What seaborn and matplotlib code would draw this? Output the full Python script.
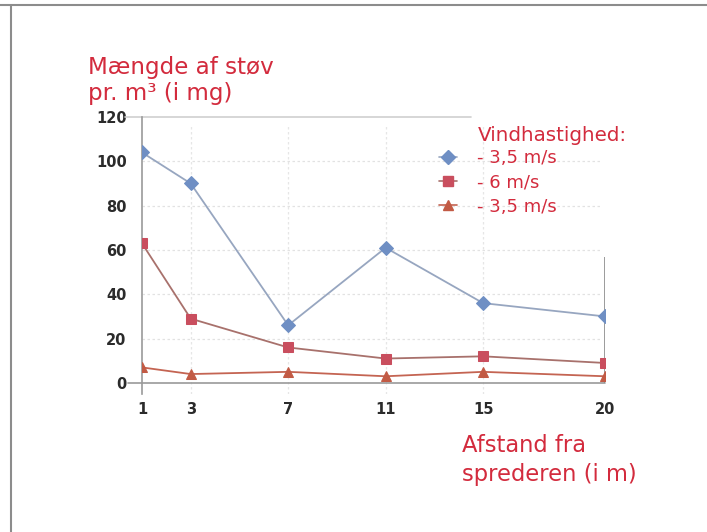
import numpy as np
import pandas as pd
import matplotlib
matplotlib.use("Agg")
import matplotlib.pyplot as plt
import seaborn as sns
from matplotlib.lines import Line2D

# afstand fra sprederen (m) og mængde af støv (mg pr. m3)
afstand = [1, 3, 7, 11, 15, 20]
serie_a = [104, 90, 26, 61, 36, 30]   # - 3,5 m/s
serie_b = [63, 29, 16, 11, 12, 9]     # - 6 m/s
serie_c = [7, 4, 5, 3, 5, 3]          # - 3,5 m/s
navne = ["- 3,5 m/s", "- 6 m/s", "- 3,5 m/s "]
y_ticks = [0, 20, 40, 60, 80, 100, 120]

df = pd.DataFrame({
    "afstand": afstand * 3,
    "mg": serie_a + serie_b + serie_c,
    "serie": [navne[0]] * 6 + [navne[1]] * 6 + [navne[2]] * 6,
})

sns.set_theme(style="white")
plt.rcParams['font.family'] = ['DejaVu Sans']

rod = "#d32b3d"
linje_farver = ["#97a6c0", "#a8716c", "#c46452"]
marker_farver = ["#6f8fc4", "#c94e5e", "#c25a44"]
marker_typer = ["D", "s", "^"]
marker_str = [7, 6.5, 7]

fig = plt.figure(figsize=(7.07, 5.32), dpi=100)
ax = fig.add_axes([0.2008, 0.2594, 0.6549, 0.5207])

sns.lineplot(data=df, x="afstand", y="mg", hue="serie", style="serie",
             palette=linje_farver, markers=marker_typer, dashes=False,
             linewidth=1.3, ax=ax, legend=False)

for i, ln in enumerate(ax.lines):
    ln.set_markerfacecolor(marker_farver[i])
    ln.set_markeredgecolor(marker_farver[i])
    ln.set_markersize(marker_str[i])
    ln.set_zorder(5 - i)

ax.set_xlim(afstand[0], afstand[-1])
ax.set_ylim(-5, 120)
ax.set_xticks(afstand)
ax.set_yticks(y_ticks)
ax.set_xticklabels([str(a) for a in afstand], fontweight="bold", fontsize=10.5, color="#2b2b2b")
ax.set_yticklabels([str(t) for t in y_ticks], fontweight="bold", fontsize=10.5, color="#2b2b2b")
ax.tick_params(axis="y", length=0, pad=11)
ax.tick_params(axis="x", length=0, pad=6)
ax.set_xlabel("")
ax.set_ylabel("")

for side in ["top", "right", "bottom"]:
    ax.spines[side].set_visible(False)
ax.spines["left"].set_color("#9a9a9a")
ax.spines["left"].set_linewidth(1.2)

# svage gitterlinjer
for t in y_ticks[1:-1]:
    ax.axhline(t, color="#e2e2e2", lw=0.9, ls=(0, (2, 2)), zorder=0, xmax=0.99)
for a in afstand[1:-1]:
    ax.axvline(a, color="#e6e6e6", lw=0.9, ls=(0, (2, 2)), zorder=0, ymax=0.97)
ax.axhline(y_ticks[-1], xmin=-0.037, xmax=0.71, color="#cfcfcf", lw=1.2, clip_on=False, zorder=1)
ax.axhline(0, xmin=-0.03, xmax=1.0, color="#9a9a9a", lw=1.2, clip_on=False, zorder=1)
ax.vlines(afstand[-1], 0, 57, color="#8a8a8a", lw=1.2, zorder=1)

# forklaring
handles = [Line2D([], [], color=linje_farver[i], marker=marker_typer[i],
                  markerfacecolor=marker_farver[i], markeredgecolor=marker_farver[i],
                  markersize=marker_str[i], lw=1.2) for i in range(3)]
leg = fig.legend(handles, [n.strip() for n in navne], loc="upper left",
                 bbox_to_anchor=(439 / 707, 1 - 149 / 532), frameon=False,
                 fontsize=13, labelcolor=rod, handlelength=1.0, handletextpad=1.1,
                 borderpad=0, borderaxespad=0, labelspacing=0.35)

fig.text(478 / 707, 1 - 141 / 532, "Vindhastighed:", color=rod, fontsize=14.3, va="baseline")
fig.text(88 / 707, 1 - 74 / 532, "Mængde af støv", color=rod, fontsize=16.6, va="baseline")
fig.text(88 / 707, 1 - 100 / 532, "pr. m³ (i mg)", color=rod, fontsize=16.6, va="baseline")
fig.text(462 / 707, 1 - 452 / 532, "Afstand fra", color=rod, fontsize=16.3, va="baseline")
fig.text(462 / 707, 1 - 481 / 532, "sprederen (i m)", color=rod, fontsize=16.3, va="baseline")

# ramme øverst og til venstre
fig.add_artist(Line2D([0, 1], [1 - 5 / 532, 1 - 5 / 532], color="#8c8c8c", lw=1.5))
fig.add_artist(Line2D([11 / 707, 11 / 707], [0, 1 - 5 / 532], color="#8c8c8c", lw=1.5))

fig.savefig("out.png", dpi=100)
